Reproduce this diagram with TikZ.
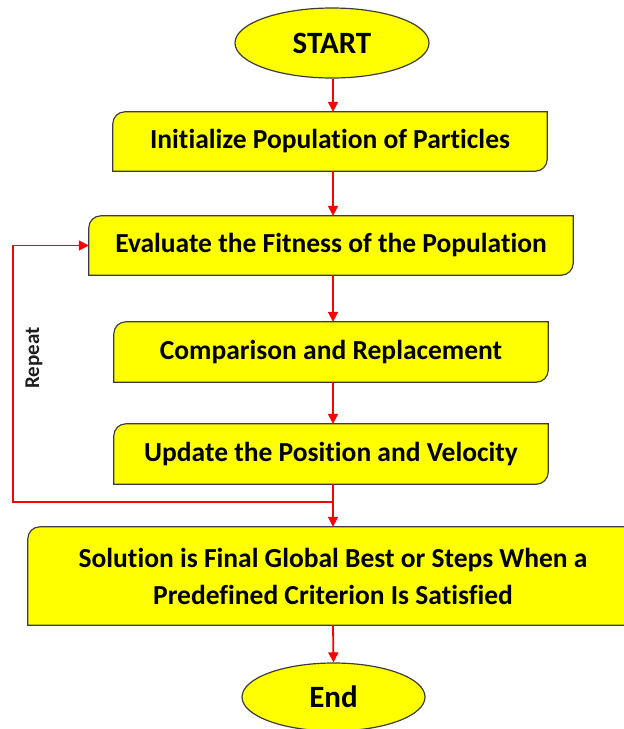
\documentclass[tikz,border=0pt]{standalone}
\usepackage{fontspec}
\setmainfont[Ligatures={NoCommon}]{Carlito}
\usetikzlibrary{shapes.geometric,backgrounds,arrows.meta}
\definecolor{boxyellow}{RGB}{255,255,0}
\definecolor{linered}{RGB}{255,0,0}
\definecolor{edgegray}{RGB}{60,60,60}
\definecolor{labelgray}{RGB}{30,30,30}
\tikzset{
  term/.style={ellipse, draw=edgegray, line width=1.2pt, fill=boxyellow, inner sep=0pt,
    font=\bfseries\fontsize{31}{36}\selectfont},
  procbox/.style={inner sep=0pt, align=center, font=\bfseries\fontsize{27.5}{37}\selectfont},
  boxedge/.style={draw=edgegray, line width=1.2pt, fill=boxyellow},
  flow/.style={draw=linered, line width=1.8pt, -{Triangle[length=10pt,width=10pt]}},
  replabel/.style={rotate=90, text=labelgray, font=\bfseries\fontsize{21}{24}\selectfont},
}
\newcommand{\cornerbox}[1]{%
  \path[boxedge] (#1.south west) -- ([yshift=-12pt]#1.north west) arc(180:90:12pt)
    -- (#1.north east) -- ([yshift=12pt]#1.south east) arc(0:-90:12pt) -- cycle;}
\begin{document}
\begin{tikzpicture}[x=1pt,y=-1pt]
\useasboundingbox (0,0) rectangle (624,729);
\clip (0,0) rectangle (624,729);
\node[term, minimum width=194pt, minimum height=70pt] (start) at (332,43) {START};
\node[procbox, minimum width=434pt, minimum height=59pt] (b1) at (330,141.5) {Initialize Population of Particles};
\node[procbox, minimum width=484pt, minimum height=59pt] (b2) at (331,245.5) {Evaluate the Fitness of the Population};
\node[procbox, minimum width=434pt, minimum height=60pt] (b3) at (331,352) {Comparison and Replacement};
\node[procbox, minimum width=434pt, minimum height=60pt] (b4) at (331,454) {Update the Position and Velocity};
\node[procbox, minimum width=610pt, minimum height=98pt] (b5) at (333,576) {Solution is Final Global Best or Steps When a\\Predefined Criterion Is Satisfied};
\node[term, minimum width=183pt, minimum height=68pt] (end) at (333.5,697) {End};
\node[replabel] (rep) at (34,358) {Repeat};
\begin{scope}[on background layer]
\cornerbox{b1}
\cornerbox{b2}
\cornerbox{b3}
\cornerbox{b4}
\cornerbox{b5}
\end{scope}
\coordinate (j) at (333,502);
\coordinate (fl) at (13,502);
\draw[flow] (start.south -| j) -- (j |- b1.north);
\draw[flow] (j |- b1.south) -- (j |- b2.north);
\draw[flow] (j |- b2.south) -- (j |- b3.north);
\draw[flow] (j |- b3.south) -- (j |- b4.north);
\draw[flow] (j |- b4.south) -- (j |- b5.north);
\draw[flow] (j |- b5.south) -- (end.north);
\draw[flow] (j) -- (fl) |- (b2.west);
\end{tikzpicture}
\end{document}
